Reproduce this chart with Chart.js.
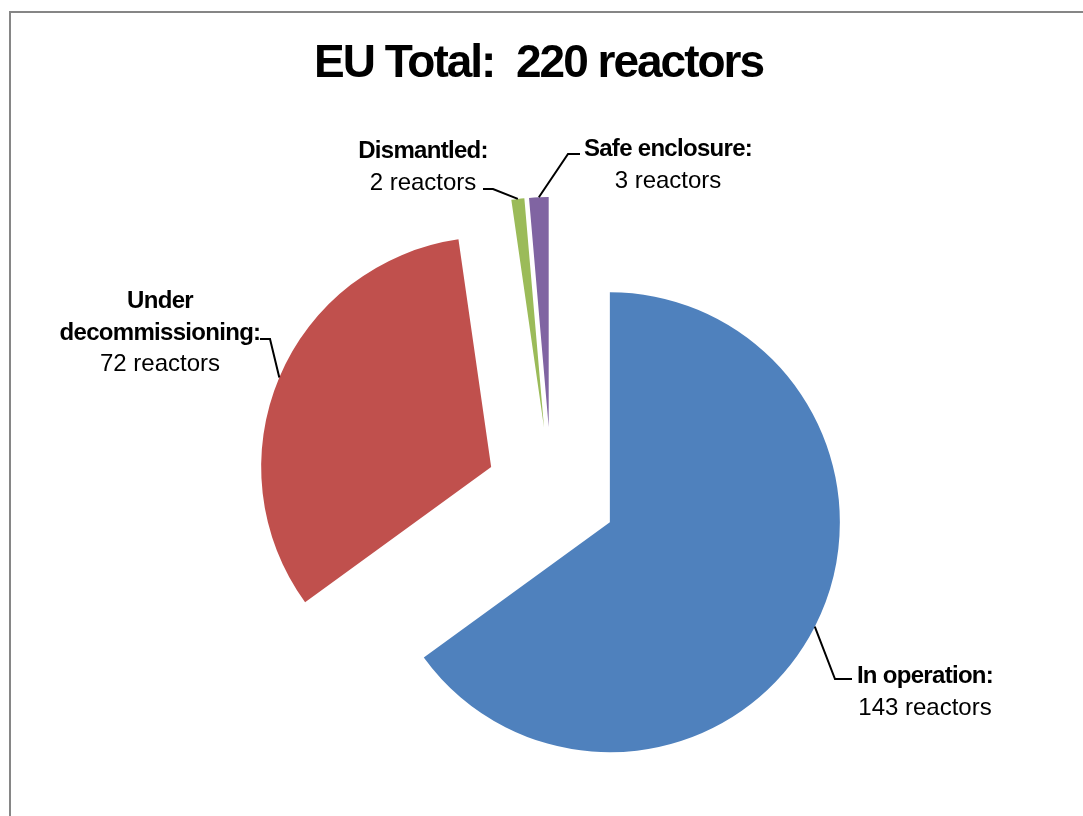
<!DOCTYPE html>
<html>
<head>
<meta charset="utf-8">
<script src="https://cdn.jsdelivr.net/npm/chart.js@4.4.1/dist/chart.umd.min.js"></script>
<style>
  html, body { margin: 0; padding: 0; background: #ffffff; }
  #wrap { width: 1083px; height: 816px; position: relative; }
  canvas { display: block; }
</style>
</head>
<body>
<div id="wrap"><canvas id="c" width="1083" height="816"></canvas></div>
<script>
// ---- data ----
const categories = ['In operation', 'Under decommissioning', 'Dismantled', 'Safe enclosure'];
const reactorCounts = [143, 72, 2, 3];
const labelHeadings = [['In operation:'], ['Under', 'decommissioning:'], ['Dismantled:'], ['Safe enclosure:']];
const unitText = 'reactors';
const sliceColors = ['#4F81BD', '#C0504D', '#9BBB59', '#8064A2'];
const totalReactors = reactorCounts.reduce((a, b) => a + b, 0);
const titleText = 'EU Total:  ' + totalReactors + ' ' + unitText;

// ---- layout / style ----
const EXPLODE = 65.5;
const RADIUS = 230;
const FONT = '"Liberation Sans", Arial, sans-serif';
const labelLayout = [
  { cx: 925, baseline: 683, end: [852, 679], elbow: [835, 679] },
  { cx: 160, baseline: 308, end: [260, 339], elbow: [270, 339] },
  { cx: 423, baseline: 158, end: [483, 189], elbow: [493, 189] },
  { cx: 668, baseline: 156, end: [580, 154], elbow: [568, 154] }
];
const LINE_H = 31.5;

const frameAndTitle = {
  id: 'frameAndTitle',
  beforeDraw(chart) {
    const ctx = chart.ctx;
    ctx.save();
    ctx.fillStyle = '#ffffff';
    ctx.fillRect(0, 0, chart.width, chart.height);
    ctx.strokeStyle = '#868686';
    ctx.lineWidth = 2;
    ctx.strokeRect(10, 12, 3000, 3000);
    ctx.fillStyle = '#000000';
    ctx.font = 'bold 46px ' + FONT;
    ctx.textAlign = 'center';
    ctx.textBaseline = 'alphabetic';
    try { ctx.letterSpacing = '-2px'; } catch (e) {}
    ctx.fillText(titleText, 538.5, 77);
    ctx.restore();
  }
};

const explodedPie = {
  id: 'explodedPie',
  beforeDatasetDraw(chart, args) {
    const meta = args.meta;
    const ctx = chart.ctx;
    meta.data.forEach(arc => {
      const mid = (arc.startAngle + arc.endAngle) / 2;
      ctx.save();
      ctx.translate(Math.cos(mid) * EXPLODE, Math.sin(mid) * EXPLODE);
      arc.draw(ctx);
      ctx.restore();
    });
    return false;
  },
  afterDatasetsDraw(chart) {
    const ctx = chart.ctx;
    const meta = chart.getDatasetMeta(0);
    ctx.save();
    meta.data.forEach((arc, i) => {
      const mid = (arc.startAngle + arc.endAngle) / 2;
      const r = arc.outerRadius + EXPLODE;
      const sx = arc.x + Math.cos(mid) * r;
      const sy = arc.y + Math.sin(mid) * r;
      const L = labelLayout[i];
      ctx.strokeStyle = '#000000';
      ctx.lineWidth = 2;
      ctx.lineJoin = 'miter';
      ctx.beginPath();
      ctx.moveTo(sx, sy);
      ctx.lineTo(L.elbow[0], L.elbow[1]);
      ctx.lineTo(L.end[0], L.end[1]);
      ctx.stroke();

      ctx.fillStyle = '#000000';
      ctx.textAlign = 'center';
      ctx.textBaseline = 'alphabetic';
      let y = L.baseline;
      labelHeadings[i].forEach(line => {
        ctx.font = 'bold 24px ' + FONT;
        try { ctx.letterSpacing = '-0.7px'; } catch (e) {}
        ctx.fillText(line, L.cx, y);
        y += LINE_H;
      });
      ctx.font = '24px ' + FONT;
      try { ctx.letterSpacing = '0px'; } catch (e) {}
      ctx.fillText(reactorCounts[i] + ' ' + unitText, L.cx, y);
    });
    ctx.restore();
  }
};

new Chart(document.getElementById('c'), {
  type: 'pie',
  data: {
    labels: categories,
    datasets: [{
      data: reactorCounts,
      backgroundColor: sliceColors,
      borderWidth: 0,
      offset: 0,
      hoverOffset: 0
    }]
  },
  options: {
    responsive: false,
    animation: false,
    radius: RADIUS,
    layout: { padding: { left: 20, top: 169, right: 0, bottom: 0 } },
    plugins: {
      legend: { display: false },
      title: { display: false },
      tooltip: { enabled: false }
    },
    events: []
  },
  plugins: [frameAndTitle, explodedPie]
});
</script>
</body>
</html>
